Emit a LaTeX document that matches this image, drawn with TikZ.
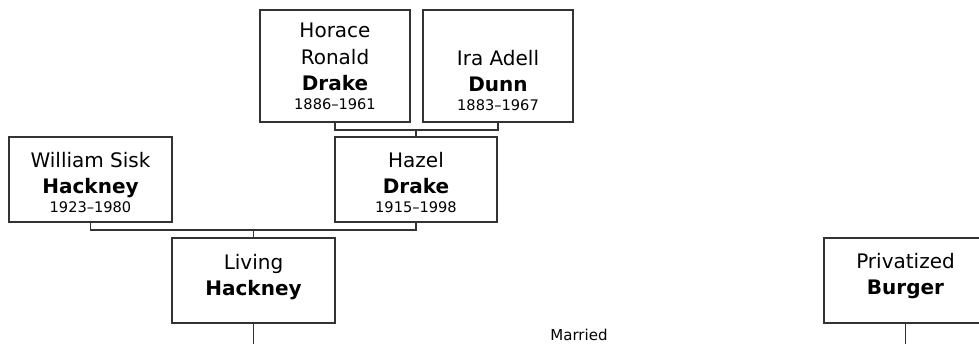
\documentclass[tikz,border=0pt]{standalone}
\usepackage{fontspec}
\setmainfont{DejaVu Sans}
\definecolor{ln}{RGB}{51,51,51}
\newcommand\yrs[1]{{\fontsize{14.6}{14.6}\selectfont #1}}
\begin{document}
\begin{tikzpicture}[x=1pt,y=-1pt,
  tallbox/.style={draw=ln, line width=1.2pt, inner sep=0pt, outer sep=0pt, minimum width=150pt, minimum height=112pt},
  widebox/.style={draw=ln, line width=1.2pt, inner sep=0pt, outer sep=0pt, minimum width=163pt, minimum height=85pt},
  nm/.style={align=center, inner sep=0pt, outer sep=0pt, anchor=north, font=\fontsize{20}{26.5}\selectfont},
  conn/.style={draw=ln, line width=1.2pt}]
\useasboundingbox (0,0) rectangle (979,344);
\clip (0,0) rectangle (979,344);
% boxes
\node[tallbox] (hor) at (335,66) {};
\node[tallbox] (ira) at (498,66) {};
\node[widebox] (wil) at (90.5,179.5) {};
\node[widebox, minimum width=162pt] (haz) at (416,179.5) {};
\node[widebox] (liv) at (253.5,280.5) {};
\node[widebox] (pri) at (905.5,280.5) {};
% texts
\node[nm] (horT) at (335,23) {Horace\\Ronald\\\textbf{Drake}\\[-7.5pt]\yrs{1886–1961}};
\node[nm] (iraT) at (498,50) {Ira Adell\\\textbf{Dunn}\\[-7.5pt]\yrs{1883–1967}};
\node[nm] (wilT) at (90.5,152) {William Sisk\\\textbf{Hackney}\\[-7.5pt]\yrs{1923–1980}};
\node[nm] (hazT) at (416,152) {Hazel\\\textbf{Drake}\\[-7.5pt]\yrs{1915–1998}};
\node[nm] (livT) at (253.5,254) {Living\\\textbf{Hackney}};
\node[nm] (priT) at (905.5,253) {Privatized\\\textbf{Burger}};
\node[font=\fontsize{15}{15}\selectfont, anchor=base, inner sep=0pt] (mar) at (579,340) {Married};
% connectors
\draw[conn] (hor.south) -- ++(0,8) coordinate (j1) -| (ira.south);
\draw[conn] (haz.north) -- (haz.north |- j1);
\draw[conn] (wil.south) -- ++(0,8) coordinate (j2) -| (haz.south);
\draw[conn] (liv.north) -- (liv.north |- j2);
\coordinate (lend) at (253.5,344);
\coordinate (pend) at (905.5,344);
\draw[conn] (liv.south) -- (liv.south |- lend);
\draw[conn] (pri.south) -- (pri.south |- pend);
\end{tikzpicture}
\end{document}
